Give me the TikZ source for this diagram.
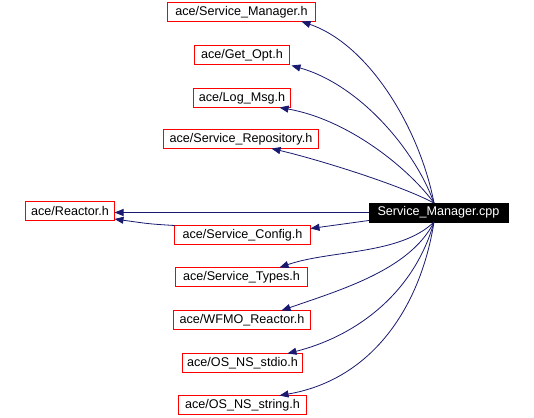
\documentclass[tikz,border=0pt]{standalone}
\usepackage{fontspec}
\setmainfont{Liberation Sans}
\usetikzlibrary{arrows.meta}
\definecolor{edgeblue}{RGB}{25,25,112}
\definecolor{boxred}{RGB}{255,0,0}
\begin{document}
\begin{tikzpicture}[x=1pt,y=-1pt,
  hbox/.style={draw=boxred,line width=1pt,fill=white,inner sep=0pt,outer sep=0pt,minimum height=19pt,font=\fontsize{12.6}{14}\selectfont},
  cppbox/.style={draw=black,fill=black,text=white,inner sep=0pt,minimum height=19pt,minimum width=139pt,font=\fontsize{12.6}{14}\selectfont},
  edge/.style={draw=edgeblue,line width=0.8pt,-{Triangle[length=9pt,width=7pt]}}]
\useasboundingbox (0,0) rectangle (534,417);
\fill[white] (0,0) rectangle (534,417);
% nodes
\node[hbox,minimum width=148pt] (smh) at (241.5,12) {ace/Service\_Manager.h};
\node[hbox,minimum width=95pt] (go) at (242,55) {ace/Get\_Opt.h};
\node[hbox,minimum width=97pt] (lm) at (242,98) {ace/Log\_Msg.h};
\node[hbox,minimum width=155pt] (sr) at (241,139) {ace/Service\_Repository.h};
\node[hbox,minimum width=89pt] (rh) at (70,211) {ace/Reactor.h};
\node[hbox,minimum width=136pt] (sc) at (242.5,235) {ace/Service\_Config.h};
\node[hbox,minimum width=132pt] (st) at (241.5,277) {ace/Service\_Types.h};
\node[hbox,minimum width=137pt] (wf) at (242,320) {ace/WFMO\_Reactor.h};
\node[hbox,minimum width=120pt] (sd) at (242.5,363) {ace/OS\_NS\_stdio.h};
\node[hbox,minimum width=128pt] (ss) at (242.5,405) {ace/OS\_NS\_string.h};
\node[cppbox] (cpp) at (438.5,212.5) {Service\_Manager.cpp};
\coordinate (ct) at (434,203);
\coordinate (cb) at (434,222);
% edges
\draw[edge] (ct) .. controls (420,130) and (370,45) .. ([xshift=-14pt]smh.south east);
\draw[edge] (ct) .. controls (415,150) and (360,85) .. ([shift={(2pt,-1pt)}]go.south east);
\draw[edge] (ct) .. controls (410,170) and (350,120) .. ([xshift=-11pt]lm.south east);
\draw[edge] (ct) .. controls (400,185) and (320,160) .. ([xshift=-47pt]sr.south east);
\draw[edge] (cpp.west) -- (cpp.west -| rh.east);
\draw[edge] ([yshift=-8pt]cpp.west) -- ([yshift=-3pt]sc.north east);
\draw[edge] (sc.north west) .. controls (150,224) .. ([yshift=-8pt]rh.east);
\draw[edge] (cb) .. controls (400,255) and (330,250) .. ([xshift=-28pt]st.north east);
\draw[edge] (cb) .. controls (410,270) and (340,290) .. ([xshift=-29pt]wf.north east);
\draw[edge] (cb) .. controls (415,290) and (360,335) .. ([xshift=-15pt]sd.north east);
\draw[edge] (cb) .. controls (420,310) and (370,380) .. ([xshift=-27pt]ss.north east);
\end{tikzpicture}
\end{document}
